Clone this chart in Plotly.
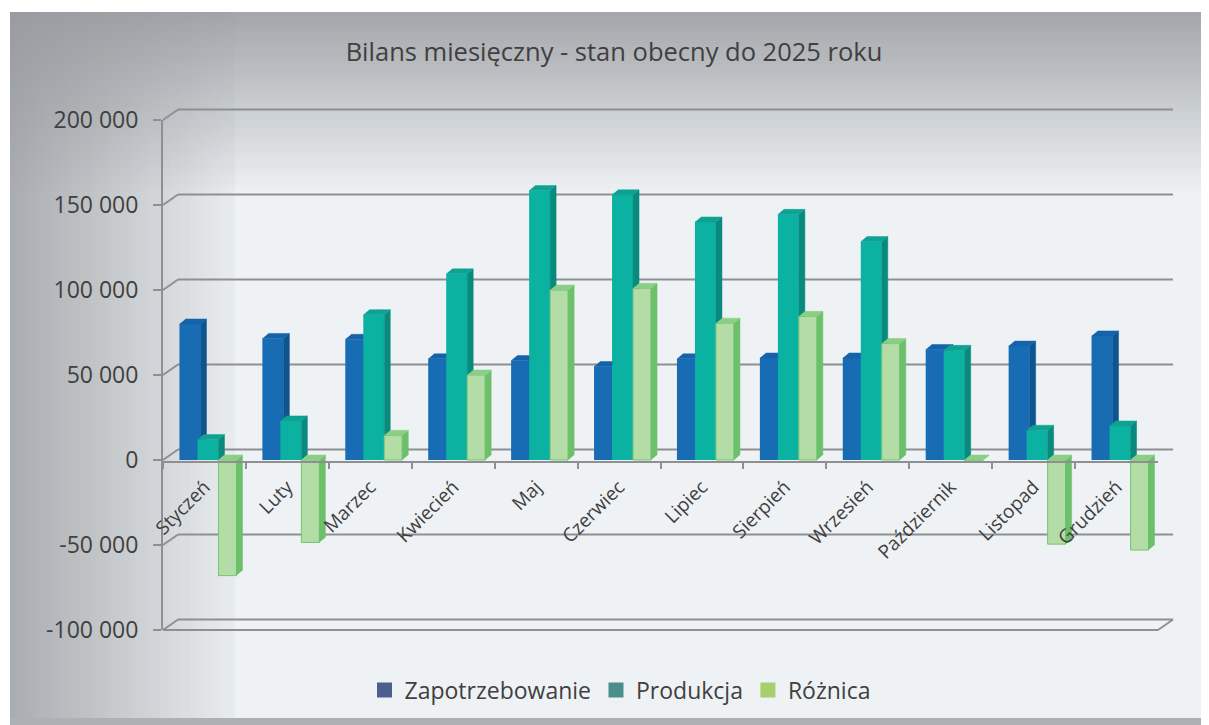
import plotly.graph_objects as go

# ---------------- data ----------------
categories = ["Styczeń", "Luty", "Marzec", "Kwiecień", "Maj", "Czerwiec",
              "Lipiec", "Sierpień", "Wrzesień", "Październik", "Listopad", "Grudzień"]
zapotrzebowanie = [80000, 71500, 71000, 59500, 58500, 55000, 59500, 60000, 60000, 65000, 67000, 73000]
produkcja = [12000, 23000, 85500, 109500, 158500, 156000, 140000, 144500, 128500, 64500, 17500, 20000]
roznica = [-68000, -48500, 14500, 50000, 100000, 101000, 80500, 84500, 68500, -500, -49500, -53000]
series_names = ["Zapotrzebowanie", "Produkcja", "Różnica"]
y_ticks = [-100000, -50000, 0, 50000, 100000, 150000, 200000]
y_tick_labels = ["-100 000", "-50 000", "0", "50 000", "100 000", "150 000", "200 000"]
title_text = "Bilans miesięczny - stan obecny do 2025 roku"

# ---------------- styles / layout constants ----------------
PAGE_OFF = 8                        # default body margin of the html page
W, H = 1209 - PAGE_OFF, 725 - PAGE_OFF
PLOT_L, PLOT_R = 163, 1158          # front plane, screen pixels
PLOT_T, PLOT_B = 120, 630           # value axis, screen pixels
Y_MIN, Y_MAX = -100000, 200000
WALL_DX, WALL_DY = 15, 10.5         # depth of back wall (px)
BAR_DX, BAR_DY = 6, 5               # depth of bars (px)
FONT = "'Open Sans', Lato, sans-serif"
TXT = "#404040"
GRID = "#8e8f91"

front_col = ["#176cb4", "#0bb2a2", "#b4dca6"]
side_col = ["#0d5591", "#098a7e", "#6cc06a"]
top_col = ["#1563aa", "#0ea293", "#8acf85"]
legend_col = ["#4a5f8f", "#4a8f8c", "#a5d06b"]
bar_start_px = [-25, -7, 14]        # relative to category centre
bar_width_px = [21, 21, 18]

n = len(categories)
cat_px = (PLOT_R - PLOT_L) / n
val_per_px = (Y_MAX - Y_MIN) / (PLOT_B - PLOT_T)


def vy(v):
    return PLOT_B - (v - Y_MIN) / (Y_MAX - Y_MIN) * (PLOT_B - PLOT_T)


def px(x):
    return (x - PAGE_OFF) / W


def py(y):
    return 1 - (y - PAGE_OFF) / H


series = [zapotrzebowanie, produkcja, roznica]

fig = go.Figure()

# front faces of the bars
for s, vals in enumerate(series):
    fig.add_trace(go.Bar(
        x=categories, y=vals, name=series_names[s],
        width=bar_width_px[s] / cat_px, offset=bar_start_px[s] / cat_px,
        marker=dict(color=front_col[s],
                    line=dict(color="#74c572" if s == 2 else front_col[s], width=1 if s == 2 else 0)),
        showlegend=False, hoverinfo="x+y+name",
    ))

# 3-D side and top faces (on an overlaid linear axis)
dxd = BAR_DX / cat_px
dyd = BAR_DY * val_per_px
for s, vals in enumerate(series):
    side_x, side_y, top_x, top_y = [], [], [], []
    for i in range(n):
        v = vals[i]
        a = i + bar_start_px[s] / cat_px
        b = a + bar_width_px[s] / cat_px
        if v >= 0:
            nxt = series[s + 1][i] if s + 1 < len(series) else None
            na = i + bar_start_px[s + 1] / cat_px if nxt is not None else None
            low = max(0, nxt) if nxt is not None else 0
            if v > low:
                br = low + dyd if low == 0 else low
                side_x += [b, b, b + dxd, b + dxd, None]
                side_y += [low, v, v + dyd, br, None]
            if nxt is not None and nxt > v:
                top_x += [a, na, na, a + dxd, None]
                top_y += [v, v, v + dyd, v + dyd, None]
            else:
                top_x += [a, b, b + dxd, a + dxd, None]
                top_y += [v, v, v + dyd, v + dyd, None]
        else:
            side_x += [b, b, b + dxd, b + dxd, None]
            side_y += [v, 0, dyd, v + dyd, None]
            top_x += [a, b, b + dxd, a + dxd, None]
            top_y += [0, 0, dyd, dyd, None]
    fig.add_trace(go.Scatter(x=side_x, y=side_y, xaxis="x2", mode="lines", fill="toself",
                             fillcolor=side_col[s], line=dict(width=0.5, color=side_col[s]),
                             hoverinfo="skip", showlegend=False))
    fig.add_trace(go.Scatter(x=top_x, y=top_y, xaxis="x2", mode="lines", fill="toself",
                             fillcolor=top_col[s], line=dict(width=0.5, color=top_col[s]),
                             hoverinfo="skip", showlegend=False))

# legend entries
for s in range(len(series)):
    fig.add_trace(go.Scatter(x=[None], y=[None], xaxis="x2", mode="markers", name=series_names[s],
                             marker=dict(symbol="square", size=15, color=legend_col[s]),
                             showlegend=True, hoverinfo="skip"))

# ---------------- decoration shapes ----------------
shapes = []
shapes.append(dict(type="rect", xref="paper", yref="paper", x0=px(10), x1=px(1209), y0=py(12), y1=py(725),
                   fillcolor="#aeb1b4", line=dict(width=0), layer="below"))
shapes.append(dict(type="rect", xref="paper", yref="paper", x0=px(10), x1=px(1204), y0=py(12), y1=py(718),
                   fillcolor="#eef2f4", line=dict(width=0), layer="below"))
# top gradient
for k in range(45):
    y0 = 12 + k * 4
    a = 0.85 * (1 - (y0 - 12) / 180)
    shapes.append(dict(type="rect", xref="paper", yref="paper", x0=px(10), x1=px(1204),
                       y0=py(y0), y1=py(y0 + 4), fillcolor=f"rgba(150,153,157,{a:.3f})",
                       line=dict(width=0), layer="below"))
# left gradient
for k in range(45):
    x0 = 10 + k * 5
    a = 0.78 * (1 - (x0 - 10) / 240)
    shapes.append(dict(type="rect", xref="paper", yref="paper", x0=px(x0), x1=px(x0 + 5),
                       y0=py(12), y1=py(718), fillcolor=f"rgba(150,153,157,{a:.3f})",
                       line=dict(width=0), layer="below"))

gl = dict(color=GRID, width=2)
for v in y_ticks:
    yf = vy(v)
    yb = yf - WALL_DY
    shapes.append(dict(type="line", xref="paper", yref="paper", x0=px(PLOT_L + WALL_DX), x1=px(PLOT_R + WALL_DX),
                       y0=py(yb), y1=py(yb), line=gl, layer="below"))
    shapes.append(dict(type="line", xref="paper", yref="paper", x0=px(PLOT_L), x1=px(PLOT_L + WALL_DX),
                       y0=py(yf), y1=py(yb), line=gl, layer="below"))
# floor at the minimum
yf = vy(Y_MIN)
shapes.append(dict(type="line", xref="paper", yref="paper", x0=px(PLOT_L), x1=px(PLOT_R),
                   y0=py(yf), y1=py(yf), line=gl, layer="below"))
shapes.append(dict(type="line", xref="paper", yref="paper", x0=px(PLOT_R), x1=px(PLOT_R + WALL_DX),
                   y0=py(yf), y1=py(yf - WALL_DY), line=gl, layer="below"))

fig.update_layout(
    width=W, height=H, autosize=False,
    margin=dict(l=0, r=0, t=0, b=0, autoexpand=False),
    paper_bgcolor="white", plot_bgcolor="rgba(0,0,0,0)",
    barmode="overlay",
    font=dict(family=FONT, color=TXT),
    title=dict(text=title_text, x=px(614), xanchor="center", y=py(52), yanchor="middle",
               font=dict(size=25.5, color=TXT, family=FONT)),
    xaxis=dict(type="category", range=[-0.5, n - 0.5], domain=[px(PLOT_L), px(PLOT_R)],
               anchor="free", position=py(vy(0) + 1.5), automargin=False,
               showline=True, linecolor=GRID, linewidth=2,
               ticks="outside", tickson="boundaries", ticklen=6, tickcolor=GRID, tickwidth=2,
               tickangle=-45, tickfont=dict(size=19, color=TXT), ticklabelstandoff=6,
               showgrid=False, zeroline=False, fixedrange=True),
    xaxis2=dict(overlaying="x", range=[-0.5, n - 0.5], visible=False, anchor="y", fixedrange=True,
                automargin=False),
    yaxis=dict(range=[Y_MIN, Y_MAX], domain=[py(PLOT_B), py(PLOT_T)], anchor="x", automargin=False,
               tickvals=y_ticks, ticktext=y_tick_labels, tickfont=dict(size=23, color=TXT),
               showline=True, linecolor=GRID, linewidth=2,
               ticks="outside", ticklen=8, tickcolor=GRID, tickwidth=2, ticklabelstandoff=10,
               showgrid=False, zeroline=False, fixedrange=True),
    legend=dict(orientation="h", x=px(620), xanchor="center", y=py(690), yanchor="middle",
                font=dict(size=23, color=TXT), bgcolor="rgba(0,0,0,0)", itemclick=False),
    shapes=shapes,
)

fig.write_html("out.html")
